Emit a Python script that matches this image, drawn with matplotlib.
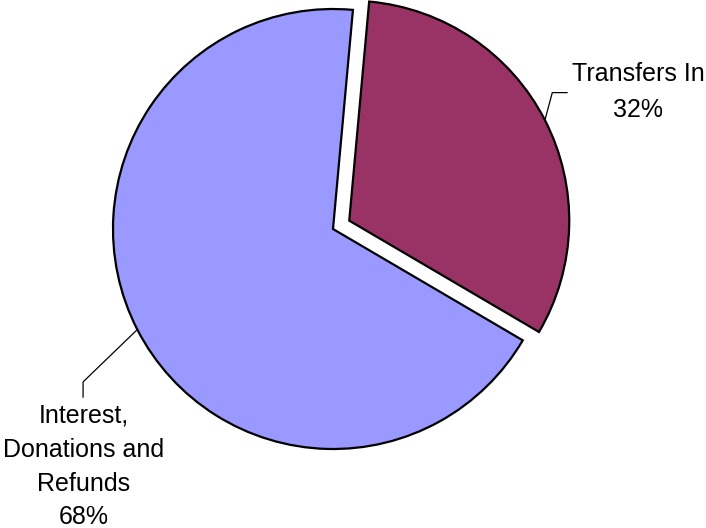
import numpy as np
import matplotlib
matplotlib.use("Agg")
import matplotlib.pyplot as plt

plt.rcParams['font.family'] = ['Liberation Sans', 'DejaVu Sans']

labels = ["Transfers In", "Interest,\nDonations and\nRefunds"]
shares = [32, 68]
colors = ["#993366", "#9999FF"]
explode = [0.083, 0.0]

fig = plt.figure(figsize=(7.06, 5.28), dpi=100)
ax = fig.add_axes([0, 0, 1, 1])

wedges, _ = ax.pie(shares, colors=colors, explode=explode, startangle=84.8,
                   counterclock=False, radius=1.0,
                   wedgeprops=dict(edgecolor="black", linewidth=1.6))

# one data unit = pie radius = 220 px, pie centre at (333, 229) px from top-left
ax.set_xlim(-333 / 220, (706 - 333) / 220)
ax.set_ylim(-(528 - 229) / 220, 229 / 220)
ax.axis("off")

# leader lines: rim point at mid-angle -> elbow -> end, then text block
leaders = [
    dict(elbow=(0.923, 0.582), end=(0.99, 0.582), text=(1.386, 0.623), ls=1.6),
    dict(elbow=(-1.136, -0.695), end=(-1.136, -0.764), text=(-1.132, -1.08), ls=1.52),
]

for w, lab, pct, ld in zip(wedges, labels, shares, leaders):
    mid = np.deg2rad((w.theta1 + w.theta2) / 2)
    cx, cy = w.center
    x0, y0 = cx + w.r * np.cos(mid), cy + w.r * np.sin(mid)
    ex, ey = cx + ld["elbow"][0], cy + ld["elbow"][1]
    fx, fy = cx + ld["end"][0], cy + ld["end"][1]
    ax.plot([x0, ex, fx], [y0, ey, fy], color="black", linewidth=0.9)
    ax.text(ld["text"][0], ld["text"][1], f"{lab}\n{pct}%", ha="center", va="center",
            fontsize=18, linespacing=ld["ls"])

fig.savefig("out.png", dpi=100)
